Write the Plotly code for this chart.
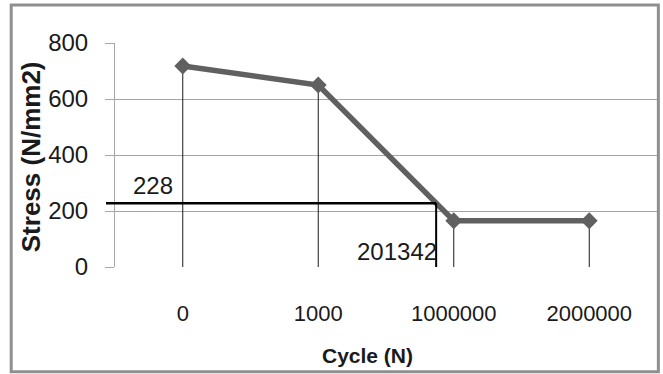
import plotly.graph_objects as go

# ---- data ----
cycle_labels = ["0", "1000", "1000000", "2000000"]
stress_values = [718, 650, 165, 165]
y_ticks = [0, 200, 400, 600, 800]
marker_stress = 228
marker_cycles_label = "201342"

FONT = "Liberation Sans"
GRID = "#a6a6a6"
LINE = "#606060"

# position (in category units) where the marker stress crosses the S-N line
i0, i1 = 1, 2
t = (stress_values[i0] - marker_stress) / (stress_values[i0] - stress_values[i1])
cross_pos = i0 + t * (i1 - i0)
n_cat = len(cycle_labels)
cross_paper = (cross_pos + 0.5) / n_cat

fig = go.Figure()
fig.add_trace(go.Scatter(
    x=cycle_labels, y=stress_values, mode="lines+markers",
    line=dict(color=LINE, width=5.5),
    marker=dict(symbol="diamond", size=13, color=LINE),
    error_y=dict(type="data", symmetric=False, array=[0] * n_cat,
                 arrayminus=stress_values, thickness=1, width=0, color="#1a1a1a"),
    showlegend=False, hoverinfo="skip",
))

shapes = [
    # horizontal marker line
    dict(type="line", xref="paper", yref="y", x0=-0.0166, x1=cross_paper,
         y0=marker_stress, y1=marker_stress, line=dict(color="black", width=2.5)),
    # vertical marker line
    dict(type="line", xref="paper", yref="y", x0=cross_paper, x1=cross_paper,
         y0=marker_stress, y1=-4, line=dict(color="black", width=2)),
    # outer border
    dict(type="rect", xref="paper", yref="paper", x0=-0.1915, x1=1.0025,
         y0=-0.468, y1=1.17, line=dict(color="#8f8f8f", width=3)),
]

annotations = [
    dict(text=str(marker_stress), xref="paper", yref="y", x=0.07, y=292,
         showarrow=False, font=dict(family=FONT, size=24, color="#1a1a1a"),
         xanchor="center", yanchor="middle"),
    dict(text=marker_cycles_label, xref="paper", yref="y", x=0.52, y=57,
         showarrow=False, font=dict(family=FONT, size=24, color="#1a1a1a"),
         xanchor="center", yanchor="middle"),
    dict(text="<b>Cycle (N)</b>", xref="paper", yref="paper", x=(367 - 115) / 542,
         y=(267 - 355) / 224, showarrow=False,
         font=dict(family=FONT, size=21, color="#1a1a1a"),
         xanchor="center", yanchor="middle"),
    dict(text="<b>Stress (N/mm2)</b>", xref="paper", yref="paper", x=(31 - 115) / 542,
         y=0.49, showarrow=False, textangle=-90,
         font=dict(family=FONT, size=26, color="#1a1a1a"),
         xanchor="center", yanchor="middle"),
]

fig.update_layout(
    width=663, height=374,
    margin=dict(l=115, r=6, t=43, b=107),
    paper_bgcolor="white", plot_bgcolor="white",
    shapes=shapes, annotations=annotations,
    xaxis=dict(type="category", range=[-0.5, n_cat - 0.5], showgrid=False,
               showline=False, ticks="", zeroline=False,
               tickfont=dict(family=FONT, size=22, color="#1a1a1a"),
               ticklabelstandoff=31),
    yaxis=dict(range=[0, 800], tickvals=y_ticks, showgrid=True, gridcolor=GRID,
               gridwidth=1, showline=True, linecolor=GRID, linewidth=1,
               ticks="outside", ticklen=9, tickcolor=GRID, zeroline=False,
               tickfont=dict(family=FONT, size=24, color="#1a1a1a"),
               ticklabelstandoff=12),
)

fig.write_html("out.html", config={"displayModeBar": False},
               post_script="document.body.style.margin='0';document.body.style.overflow='hidden';")
